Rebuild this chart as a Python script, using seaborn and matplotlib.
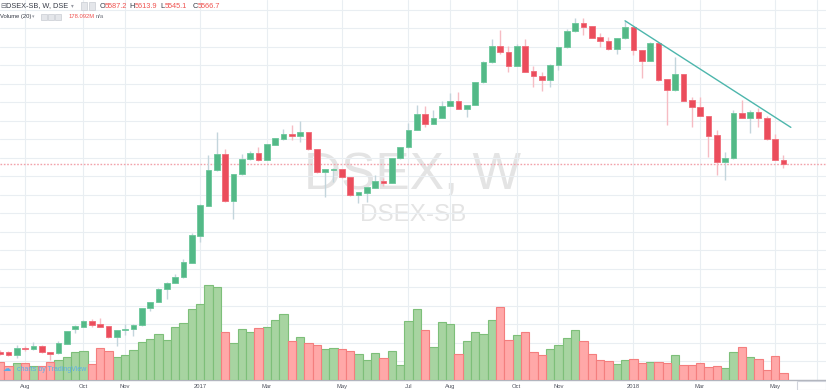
import numpy as np
import pandas as pd
import seaborn as sns
import matplotlib.pyplot as plt
from matplotlib.patches import Rectangle

# weekly DSEX candles (bar index 0..94)
opens = [4552, 4548, 4532, 4572, 4566, 4582, 4549, 4542, 4594, 4674,
         4686, 4719, 4699, 4690, 4631, 4667, 4674, 4695, 4786, 4821,
         4890, 4922, 4953, 5032, 5178, 5340, 5532, 5620, 5364, 5512,
         5591, 5627, 5587, 5668, 5701, 5728, 5718, 5737, 5645, 5521,
         5533, 5540, 5494, 5398, 5410, 5437, 5475, 5464, 5596, 5656,
         5749, 5836, 5783, 5816, 5881, 5906, 5861, 5884, 6007, 6115,
         6205, 6173, 6095, 6205, 6068, 6041, 6018, 6101, 6196, 6284,
         6326, 6311, 6250, 6233, 6185, 6245, 6304, 6182, 6124, 6221,
         6023, 5966, 6052, 5912, 5872, 5827, 5722, 5578, 5596, 5840,
         5816, 5845, 5816, 5701, 5587.2]
highs = [4560, 4557, 4587, 4582, 4602, 4587, 4552, 4609, 4663, 4695,
         4722, 4726, 4733, 4693, 4671, 4701, 4701, 4790, 4822, 4895,
         4928, 4971, 5051, 5194, 5349, 5614, 5740, 5647, 5514, 5620,
         5637, 5657, 5676, 5709, 5753, 5776, 5800, 5739, 5647, 5539,
         5544, 5541, 5495, 5417, 5441, 5506, 5488, 5598, 5657, 5786,
         5884, 5879, 5857, 5906, 5951, 5956, 5887, 6009, 6122, 6240,
         6290, 6203, 6214, 6240, 6097, 6065, 6106, 6198, 6294, 6355,
         6355, 6314, 6272, 6254, 6247, 6340, 6306, 6184, 6225, 6225,
         6025, 6146, 6055, 5926, 5926, 5828, 5749, 5632, 5857, 5912,
         5857, 5870, 5825, 5728, 5613.9]
lows = [4533, 4528, 4519, 4556, 4563, 4544, 4506, 4539, 4593, 4651,
        4685, 4683, 4685, 4628, 4582, 4641, 4638, 4693, 4773, 4820,
        4836, 4921, 4952, 5031, 5146, 5339, 5530, 5360, 5268, 5509,
        5587, 5583, 5585, 5666, 5698, 5695, 5686, 5644, 5520, 5389,
        5470, 5493, 5395, 5356, 5362, 5436, 5447, 5463, 5595, 5655,
        5748, 5764, 5782, 5814, 5879, 5861, 5821, 5883, 6006, 6114,
        6160, 6065, 6094, 6063, 5983, 5962, 5983, 6074, 6195, 6279,
        6263, 6247, 6196, 6184, 6158, 6244, 6155, 6032, 6122, 6017,
        5776, 5963, 5906, 5767, 5825, 5605, 5506, 5479, 5595, 5812,
        5732, 5764, 5698, 5585, 5545.1]
closes = [4541, 4532, 4571, 4566, 4580, 4548, 4540, 4596, 4661, 4692,
          4719, 4695, 4686, 4631, 4668, 4674, 4697, 4787, 4820, 4890,
          4924, 4955, 5034, 5180, 5342, 5533, 5620, 5364, 5512, 5591,
          5627, 5586, 5672, 5704, 5728, 5718, 5737, 5645, 5521, 5537,
          5540, 5494, 5398, 5416, 5440, 5475, 5464, 5596, 5656, 5749,
          5837, 5783, 5816, 5879, 5906, 5863, 5884, 6007, 6117, 6205,
          6171, 6095, 6205, 6065, 6041, 6018, 6101, 6196, 6284, 6326,
          6308, 6248, 6232, 6185, 6245, 6304, 6182, 6124, 6221, 6020,
          5966, 6052, 5908, 5872, 5827, 5718, 5578, 5596, 5840, 5813,
          5845, 5813, 5701, 5587.2, 5566.7]
# weekly volume, millions of shares
volumes = [458, 350, 418, 418, 350, 350, 458, 500, 568, 708,
           725, 400, 793, 733, 568, 618, 743, 950, 1018, 1150,
           993, 1318, 1418, 1768, 1900, 2375, 2333, 1193, 933, 1268,
           1193, 1293, 1318, 1500, 1650, 975, 1068, 925, 868, 775,
           800, 775, 733, 643, 500, 675, 550, 733, 375, 1475,
           1768, 1250, 825, 1458, 1400, 643, 968, 1200, 1150, 1508,
           1825, 993, 1125, 1200, 693, 618, 775, 875, 1043, 1250,
           968, 658, 500, 475, 400, 500, 525, 425, 450, 450,
           425, 633, 375, 375, 425, 333, 350, 300, 708, 825,
           568, 525, 250, 600, 178.092]

tick_pos = [3, 10, 15, 24, 32, 41, 49, 54, 62, 67, 76, 84, 93, 98]
tick_labels = ['Aug', 'Oct', 'Nov', '2017', 'Mar', 'May', 'Jul', 'Aug',
               'Oct', 'Nov', '2018', 'Mar', 'May', '']

trend_x = [75, 94.9]
trend_y = [6340, 5764]
last_close = 5566.7

UP, DOWN = '#53b987', '#eb4d5c'

sns.set_style('white')
plt.rcParams['font.family'] = ['Liberation Sans', 'DejaVu Sans']

df = pd.DataFrame({'bar': np.arange(len(closes)), 'open': opens, 'high': highs,
                   'low': lows, 'close': closes, 'volume': volumes})
df['dir'] = np.where(df['close'] >= df['open'], 'up', 'down')
up = df['dir'] == 'up'

W, H = 826, 390
fig = plt.figure(figsize=(W / 100, H / 100), dpi=100)
ax = fig.add_axes([0, 10 / H, 1, 380 / H])
axv = ax.twinx()

# volume
sns.barplot(data=df, x='bar', y='volume', hue='dir', hue_order=['up', 'down'],
            palette={'up': '#a7d4a1', 'down': '#ffa8a8'}, saturation=1,
            dodge=False, width=1.0, native_scale=True, errorbar=None,
            legend=False, ax=axv)
for cont, ec in zip(axv.containers, ['#7dbf79', '#f47e7e']):
    for p in cont:
        p.set_edgecolor(ec)
        p.set_linewidth(0.8)
axv.set_ylim(0, 9500)
axv.set_yticks([])
axv.set_ylabel('')
axv.set_xlabel('')
for s in axv.spines.values():
    s.set_visible(False)

# watermark
ax.text(49.5, 5500, 'DSEX, W', fontsize=37, color='#e4e4e4', ha='center',
        va='center', zorder=0)
ax.text(49.6, 5290, 'DSEX-SB', fontsize=17.5, color='#e4e4e4', ha='center',
        va='center', zorder=0)

# candles
wick_col = np.where(up, '#c3d5dc', '#f6bcc3')
ax.vlines(df['bar'], df['low'], df['high'], colors=wick_col, lw=1, zorder=3)
body_lo = np.minimum(df['open'], df['close'])
body_h = np.maximum(np.abs(df['close'] - df['open']), 5)
ax.bar(df['bar'], body_h, bottom=body_lo, width=0.68,
       color=np.where(up, UP, DOWN), edgecolor=np.where(up, '#6cc79b', '#f06b78'),
       linewidth=0.6, zorder=4)

ax.axhline(last_close, color='#f2a2aa', ls=(0, (1.2, 1.2)), lw=1, zorder=2)
ax.plot(trend_x, trend_y, color='#4db6ac', lw=1, zorder=5)

ax.set_ylim(4398.5, 6452.4)
ax.set_yticks(np.arange(4400, 6500, 100))
ax.set_yticklabels([])
ax.set_xlim(-0.02, 99.12)
ax.set_xticks(tick_pos)
ax.set_xticklabels(tick_labels)
ax.grid(True, color='#e9eef2', lw=0.8)
ax.set_axisbelow(True)
ax.tick_params(axis='y', length=0)
ax.tick_params(axis='x', length=2, width=0.8, color='#b2b5be', pad=0.6,
               labelsize=4.2, labelcolor='#50535e')
for s in ['top', 'left', 'right']:
    ax.spines[s].set_visible(False)
ax.spines['bottom'].set_color('#b2b5be')
ax.spines['bottom'].set_linewidth(1)


def fx(x):
    return x / W


def fy(y):
    return 1 - y / H


# legend header
dark, red = '#363a45', '#ef5350'
fig.text(fx(0), fy(6), '⊟', fontsize=5, color='#6a6d78', va='center')
fig.text(fx(5.5), fy(6), 'DSEX-SB, W, DSE', fontsize=5.3, color=dark, va='center')
fig.text(fx(71), fy(6), '▾', fontsize=4, color='#9598a1', va='center')
for x0 in [81, 88.5]:
    fig.patches.append(Rectangle((fx(x0), fy(9.5)), 6 / W, 7 / H,
                                 transform=fig.transFigure, facecolor='#e4e6ea',
                                 edgecolor='#cfd2d8', lw=0.6))
for letter, lx, val, vx in [('O', 99.5, '5587.2', 105), ('H', 129.5, '5613.9', 135),
                            ('L', 160.5, '5545.1', 165), ('C', 192.5, '5566.7', 198)]:
    fig.text(fx(lx), fy(6), letter, fontsize=5.3, color=dark, va='center')
    fig.text(fx(vx), fy(6), val, fontsize=5.3, color=red, va='center')

fig.text(fx(0), fy(16.5), 'Volume (20)', fontsize=4.2, color=dark, va='center')
fig.text(fx(32), fy(16.5), '▾', fontsize=3.5, color='#9598a1', va='center')
for x0 in [41, 48, 55]:
    fig.patches.append(Rectangle((fx(x0), fy(19.5)), 6 / W, 6 / H,
                                 transform=fig.transFigure, facecolor='#e4e6ea',
                                 edgecolor='#cfd2d8', lw=0.6))
fig.text(fx(69), fy(16.5), '178.092M', fontsize=4.2, color=red, va='center')
fig.text(fx(96), fy(16.5), 'n/a', fontsize=4.2, color='#6a6d78', va='center')

# branding and corner box
fig.text(fx(3), fy(369.5), '☁', fontsize=6, color='#5aaee8', va='center')
fig.text(fx(17), fy(369.5), 'charts by TradingView', fontsize=5, color='#5aaee8',
         va='center')
fig.patches.append(Rectangle((fx(797), 0), 29 / W, 9 / H, transform=fig.transFigure,
                             facecolor='white', edgecolor='#d1d4dc', lw=0.8))

plt.savefig('out.png', dpi=100)
